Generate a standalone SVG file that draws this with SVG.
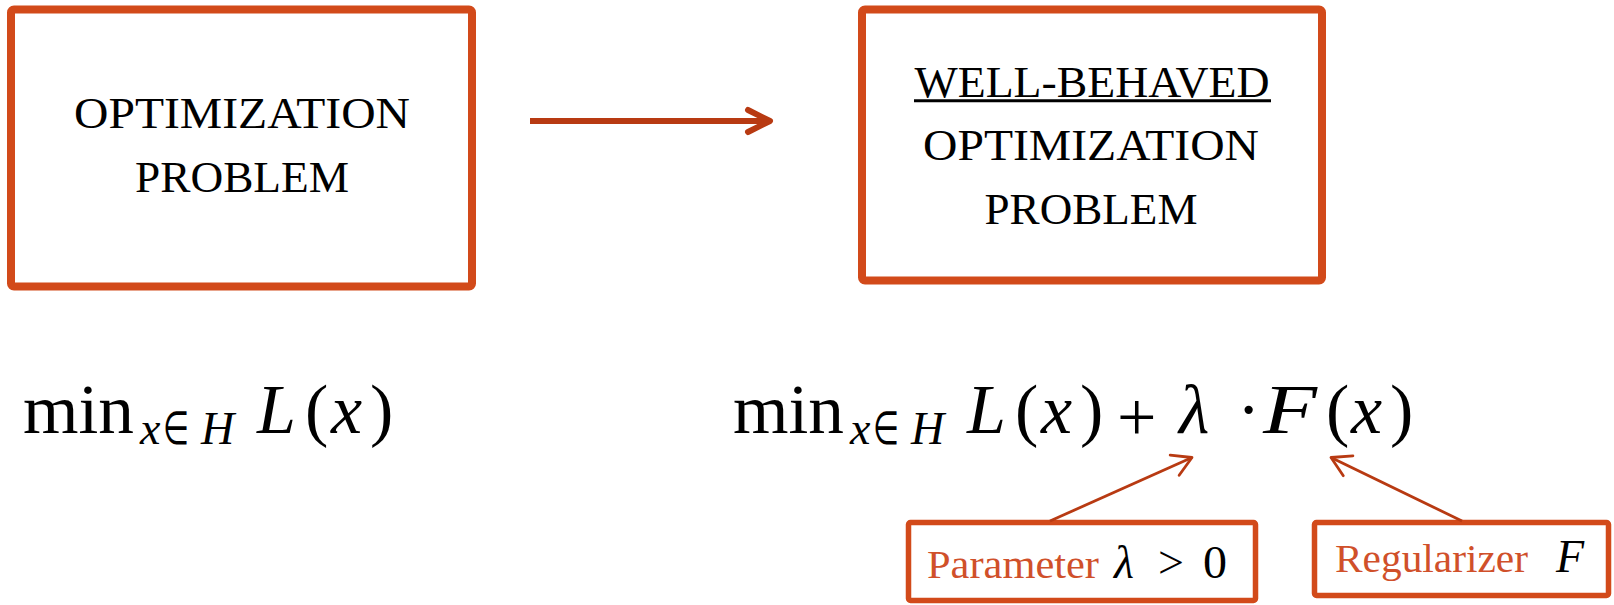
<svg xmlns="http://www.w3.org/2000/svg" width="1614" height="605" viewBox="0 0 1614 605">
<style>
.box{fill:#ffffff;stroke:#D24A1A;stroke-width:8;}
.sbox{fill:#ffffff;stroke:#D24A1A;stroke-width:5.5;}
.t{font-family:"Liberation Serif","Times New Roman",serif;font-size:45px;fill:#000;text-anchor:middle;}
.m{font-family:"Liberation Serif","Times New Roman",serif;font-size:70px;fill:#000;}
.mi{font-family:"Liberation Serif","Times New Roman",serif;font-size:70px;font-style:italic;fill:#000;}
.s{font-family:"Liberation Serif","Times New Roman",serif;font-size:46px;fill:#000;}
.si{font-family:"Liberation Serif","Times New Roman",serif;font-size:46px;font-style:italic;fill:#000;}
.lab{font-family:"Liberation Serif","Times New Roman",serif;font-size:41px;fill:#D0502A;}
.conn{fill:none;stroke:#B83A12;}
</style>
<defs>
<marker id="bigHead" markerUnits="userSpaceOnUse" refX="0" refY="0" orient="auto" style="overflow:visible">
<path d="M-22,-11 L0,0 L-22,11" fill="none" stroke="#B83A12" stroke-width="6" stroke-linecap="round" stroke-linejoin="round"/>
</marker>
<marker id="smallHead" markerUnits="userSpaceOnUse" refX="0" refY="0" orient="auto" style="overflow:visible">
<path d="M-19,-11 L0,0 L-19,11" fill="none" stroke="#B83A12" stroke-width="2.8" stroke-linecap="round" stroke-linejoin="round"/>
</marker>
</defs>

<g id="node-problem">
<rect class="box" x="11" y="9.5" width="461" height="277" rx="3"/>
<text class="t" x="242" y="128" textLength="336" lengthAdjust="spacingAndGlyphs">OPTIMIZATION</text>
<text class="t" x="242" y="192" textLength="214" lengthAdjust="spacingAndGlyphs">PROBLEM</text>
</g>

<g id="node-wellbehaved">
<rect class="box" x="862" y="9.5" width="460" height="271" rx="3"/>
<text class="t" x="1092" y="97" textLength="355" lengthAdjust="spacingAndGlyphs">WELL-BEHAVED</text>
<line x1="914" y1="100.8" x2="1271" y2="100.8" stroke="#000" stroke-width="3"/>
<text class="t" x="1091" y="160" textLength="336" lengthAdjust="spacingAndGlyphs">OPTIMIZATION</text>
<text class="t" x="1091" y="224" textLength="213" lengthAdjust="spacingAndGlyphs">PROBLEM</text>
</g>

<g id="formula-left">
<text class="m" x="23" y="433" textLength="111" lengthAdjust="spacingAndGlyphs">min</text>
<text class="si" x="140" y="444">x</text>
<text class="s" x="163" y="444" textLength="26" lengthAdjust="spacingAndGlyphs">∈</text>
<text class="si" x="201" y="444">H</text>
<text class="mi" x="257" y="433">L</text>
<text class="m" x="305" y="433">(</text>
<text class="mi" x="331" y="433">x</text>
<text class="m" x="370" y="433">)</text>
</g>

<g id="formula-right">
<text class="m" x="733" y="433" textLength="111" lengthAdjust="spacingAndGlyphs">min</text>
<text class="si" x="850" y="444">x</text>
<text class="s" x="873" y="444" textLength="26" lengthAdjust="spacingAndGlyphs">∈</text>
<text class="si" x="911" y="444">H</text>
<text class="mi" x="967" y="433">L</text>
<text class="m" x="1015" y="433">(</text>
<text class="mi" x="1041" y="433">x</text>
<text class="m" x="1080" y="433">)</text>
<text class="m" x="1117" y="441" font-size="88">+</text>
<text class="mi" x="1179" y="433" font-size="74">λ</text>
<text class="m" x="1237" y="433">·</text>
<text class="mi" x="1263" y="433" font-size="74" textLength="54" lengthAdjust="spacingAndGlyphs">F</text>
<text class="m" x="1326" y="433">(</text>
<text class="mi" x="1351" y="433">x</text>
<text class="m" x="1390" y="433">)</text>
</g>

<g id="node-parameter">
<rect class="sbox" x="908.5" y="522.5" width="347" height="78" rx="2"/>
<text class="lab" x="927" y="578" textLength="172" lengthAdjust="spacingAndGlyphs">Parameter</text>
<text class="si" x="1114" y="578" font-size="48">λ</text>
<text class="s" x="1158" y="578" font-size="48">&gt;</text>
<text class="s" x="1203" y="578" font-size="34" textLength="24" lengthAdjust="spacingAndGlyphs">0</text>
</g>

<g id="node-regularizer">
<rect class="sbox" x="1314.5" y="522.5" width="294" height="73" rx="2"/>
<text class="lab" x="1335" y="572" textLength="193" lengthAdjust="spacingAndGlyphs">Regularizer</text>
<text class="si" x="1556" y="572" font-size="53">F</text>
</g>

<g id="connectors">
<line class="conn" x1="530" y1="121" x2="770" y2="121" stroke-width="6" marker-end="url(#bigHead)"/>
<line class="conn" x1="1050" y1="521" x2="1192" y2="457.5" stroke-width="2.8" marker-end="url(#smallHead)"/>
<line class="conn" x1="1462" y1="521" x2="1331" y2="457.5" stroke-width="2.8" marker-end="url(#smallHead)"/>
</g>
</svg>
